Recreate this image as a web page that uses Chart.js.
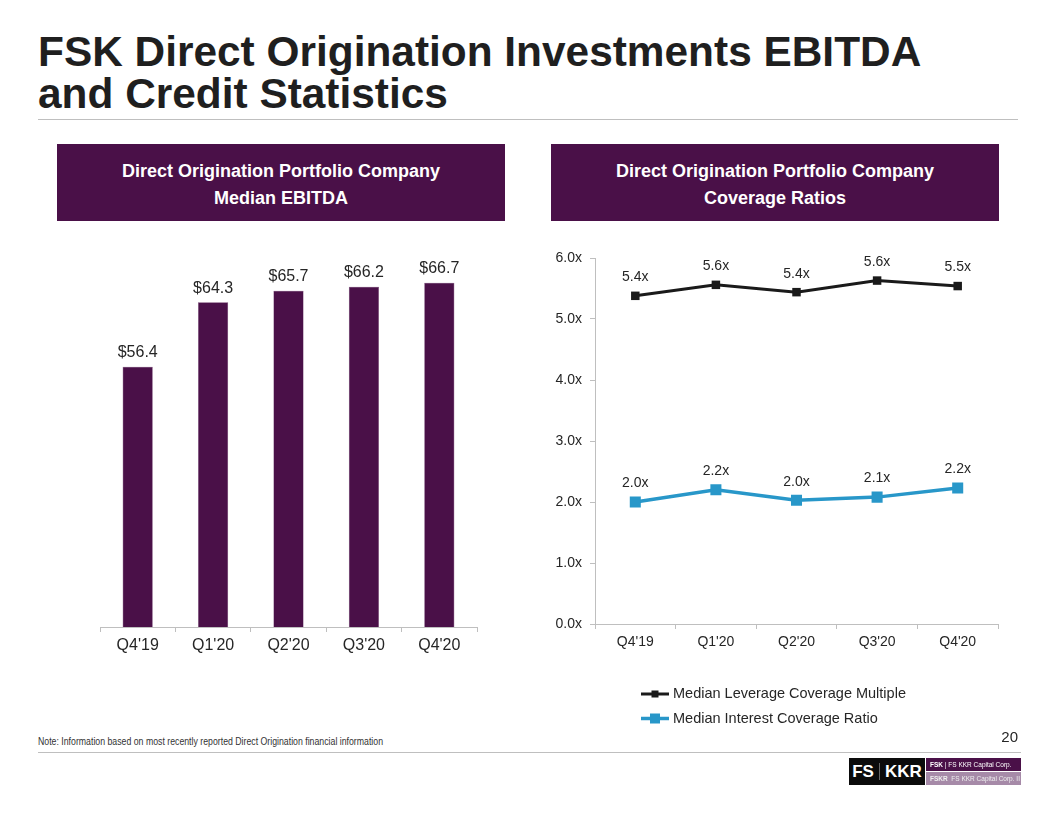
<!DOCTYPE html>
<html><head><meta charset="utf-8">
<script src="https://cdn.jsdelivr.net/npm/chart.js@4.4.1/dist/chart.umd.min.js"></script>
<style>
body{margin:0;width:1056px;height:816px;position:relative;background:#fff;font-family:"Liberation Sans",Arial,sans-serif;overflow:hidden;color:#262626}
.title{position:absolute;left:38px;top:31px;font-size:42.4px;line-height:42px;font-weight:bold;color:#1f1f1f;white-space:nowrap}
.rule{position:absolute;height:1px;background:#bfbfbf}
.hdr{position:absolute;top:144px;height:77px;background:#4a1048;color:#fff;font-weight:bold;font-size:18px;line-height:27px;text-align:center;display:flex;align-items:center;justify-content:center;box-sizing:border-box;padding-top:4px}
canvas{position:absolute}
.note{position:absolute;left:38px;top:735px;font-size:11px;line-height:13px;white-space:nowrap;transform-origin:0 0;color:#333}
.page{position:absolute;right:38px;top:728px;font-size:15px;line-height:17px;color:#262626}
.logo1{position:absolute;left:849px;top:758px;width:76px;height:27px;background:#0b0b0b;color:#fff;font-weight:bold;font-size:17px;line-height:27px;text-align:center}
.logo1 span{display:inline-block;width:1px;height:17px;background:#666;vertical-align:-3px;margin:0 5px}
.logo2{position:absolute;left:926px;top:758px;width:95px;height:13px;background:#4a1048;color:#fff;font-size:6.5px;line-height:13px;padding-left:4px;box-sizing:border-box;white-space:nowrap}
.logo3{position:absolute;left:926px;top:772px;width:95px;height:13px;background:#a68aa8;color:#eee;font-size:6.5px;line-height:13px;padding-left:4px;box-sizing:border-box;white-space:nowrap}
</style></head><body>
<div class="title">FSK Direct Origination Investments EBITDA<br>and Credit Statistics</div>
<div class="rule" style="left:38px;top:119px;width:980px"></div>
<div class="hdr" style="left:57px;width:448px">Direct Origination Portfolio Company<br>Median EBITDA</div>
<div class="hdr" style="left:551px;width:448px">Direct Origination Portfolio Company<br>Coverage Ratios</div>
<canvas id="bar" width="440" height="440" style="left:60px;top:230px;width:440px;height:440px"></canvas>
<canvas id="line" width="480" height="500" style="left:540px;top:240px;width:480px;height:500px"></canvas>
<div class="note" id="note">Note: Information based on most recently reported Direct Origination financial information</div>
<div class="page">20</div>
<div class="rule" style="left:38px;top:752px;width:983px"></div>
<div class="logo1">FS<span></span>KKR</div>
<div class="logo2"><b>FSK</b> | FS KKR Capital Corp.</div>
<div class="logo3"><b>FSKR</b> &nbsp;FS KKR Capital Corp. II</div>
<script>
const quarters = ["Q4'19","Q1'20","Q2'20","Q3'20","Q4'20"];
const ebitda = [56.4,64.3,65.7,66.2,66.7];
const leverage = [5.38,5.56,5.44,5.63,5.54];
const interest = [2.00,2.20,2.03,2.08,2.23];
const coverageTicks = [0,1,2,3,4,5,6];
const seriesNames = ["Median Leverage Coverage Multiple","Median Interest Coverage Ratio"];

(function(){const n=document.getElementById('note');const w=n.getBoundingClientRect().width;n.style.transform='scaleX('+(345/w)+')';})();

const FONT = '"Liberation Sans", Arial, sans-serif';
const TXT = '#262626';
const AXIS = '#bfbfbf';

const valueLabels = {
  id:'valueLabels',
  afterDatasetsDraw(chart){
    const o = chart.options.plugins.valueLabels;
    if(!o) return;
    const ctx = chart.ctx;
    ctx.save();
    ctx.font = o.size+'px '+FONT;
    ctx.fillStyle = TXT;
    ctx.textAlign='center';
    ctx.textBaseline='middle';
    chart.data.datasets.forEach((ds,i)=>{
      chart.getDatasetMeta(i).data.forEach((el,j)=>{
        ctx.fillText(o.prefix + Number(ds.data[j]).toFixed(1) + o.suffix, el.x, el.y - o.offset);
      });
    });
    ctx.restore();
  }
};

const lineLegend = {
  id:'lineLegend',
  afterDraw(chart){
    const o = chart.options.plugins.lineLegend;
    if(!o) return;
    const ctx = chart.ctx;
    ctx.save();
    chart.data.datasets.forEach((ds,i)=>{
      const y = o.y + i*o.gap;
      ctx.strokeStyle = ds.borderColor;
      ctx.lineWidth = ds.borderWidth;
      ctx.beginPath(); ctx.moveTo(o.x, y); ctx.lineTo(o.x+28, y); ctx.stroke();
      const s = ds.legendBox;
      ctx.fillStyle = ds.pointBackgroundColor;
      ctx.fillRect(o.x+14-s/2, y-s/2, s, s);
      ctx.fillStyle = TXT;
      ctx.font = '14.5px '+FONT;
      ctx.textAlign='left'; ctx.textBaseline='middle';
      ctx.fillText(ds.label, o.x+32, y);
    });
    ctx.restore();
  }
};

new Chart(document.getElementById('bar'),{
  type:'bar',
  data:{labels:quarters,datasets:[{data:ebitda,backgroundColor:'#4a1048',borderColor:'#6d3a6b',borderWidth:0.5,barPercentage:0.4,categoryPercentage:1}]},
  options:{
    responsive:false,animation:false,
    layout:{padding:{left:40,right:23,top:20,bottom:11}},
    plugins:{legend:{display:false},tooltip:{enabled:false},
      valueLabels:{size:16,offset:14,prefix:'$',suffix:''}},
    scales:{
      x:{grid:{display:true,drawOnChartArea:false,offset:true,tickLength:5,color:AXIS},
         border:{color:AXIS,width:1},
         ticks:{font:{size:16,family:FONT},color:TXT,padding:4,maxRotation:0},
         afterFit(s){s.height=32;}},
      y:{display:false,min:24.5,max:70.7}
    }
  },
  plugins:[valueLabels]
});

new Chart(document.getElementById('line'),{
  type:'line',
  data:{labels:quarters,datasets:[
    {label:seriesNames[0],data:leverage,borderColor:'#1a1a1a',backgroundColor:'#1a1a1a',pointBackgroundColor:'#1a1a1a',pointBorderColor:'#1a1a1a',borderWidth:3,pointStyle:'rect',pointRadius:6,pointBorderWidth:0,legendBox:7},
    {label:seriesNames[1],data:interest,borderColor:'#2897c9',backgroundColor:'#2897c9',pointBackgroundColor:'#2897c9',pointBorderColor:'#2897c9',borderWidth:3.5,pointStyle:'rect',pointRadius:7.8,pointBorderWidth:0,legendBox:10}
  ]},
  options:{
    responsive:false,animation:false,
    layout:{padding:{left:0,right:22,top:18,bottom:86}},
    plugins:{legend:{display:false},tooltip:{enabled:false},
      valueLabels:{size:14,offset:18.5,prefix:'',suffix:'x'},
      lineLegend:{x:101,y:454,gap:24.5}},
    scales:{
      x:{offset:true,grid:{display:true,drawOnChartArea:false,offset:true,tickLength:5,color:AXIS},
         border:{color:AXIS,width:1},
         ticks:{font:{size:14,family:FONT},color:TXT,padding:5,maxRotation:0},
         afterFit(s){s.height=30;}},
      y:{min:0,max:6,
         afterBuildTicks(s){s.ticks=coverageTicks.map(v=>({value:v}));},
         grid:{display:true,drawOnChartArea:false,tickLength:5,color:AXIS},
         border:{color:AXIS,width:1},
         ticks:{font:{size:14,family:FONT},color:TXT,padding:8,callback:v=>Number(v).toFixed(1)+'x'},
         afterFit(s){s.width=55;}}
    }
  },
  plugins:[valueLabels,lineLegend]
});
</script>
</body></html>
